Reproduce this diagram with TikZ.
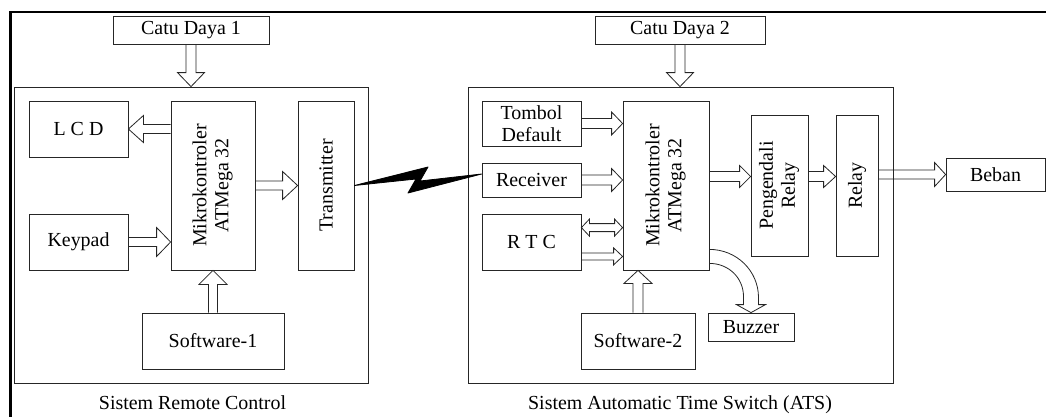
\documentclass[tikz,border=0pt]{standalone}
\usepackage{fontspec}
\setmainfont{Liberation Serif}
\usetikzlibrary{positioning, calc}

% sizes of the hollow block arrows
\tikzset{fat shaft/.initial=5bp, fat head/.initial=13.5bp, fat len/.initial=14bp}
\newcommand{\faw}{\pgfkeysvalueof{/tikz/fat shaft}}
\newcommand{\faW}{\pgfkeysvalueof{/tikz/fat head}}
\newcommand{\fah}{\pgfkeysvalueof{/tikz/fat len}}
\newcommand{\fatangle}[2]{%
  \path let \p1=#1, \p2=#2 in \pgfextra{%
    \pgfmathsetmacro\faAng{atan2(\y2-\y1,\x2-\x1)}\global\let\faAng\faAng
    \pgfmathsetmacro\faLen{veclen(\x2-\x1,\y2-\y1)}\global\let\faLen\faLen};}
\newcommand{\fatarrow}[3][]{%
  \fatangle{#2}{#3}
  \draw[fat, #1, shift={#2}, rotate=\faAng]
    (0pt,\faw) -- ({\faLen pt-\fah},\faw) -- ({\faLen pt-\fah},\faW) -- (\faLen pt,0pt)
    -- ({\faLen pt-\fah},-\faW) -- ({\faLen pt-\fah},-\faw) -- (0pt,-\faw);}
\newcommand{\fatboth}[3][]{%
  \fatangle{#2}{#3}
  \draw[fat, #1, shift={#2}, rotate=\faAng]
    (\fah,\faw) -- ({\faLen pt-\fah},\faw) -- ({\faLen pt-\fah},\faW) -- (\faLen pt,0pt)
    -- ({\faLen pt-\fah},-\faW) -- ({\faLen pt-\fah},-\faw) -- (\fah,-\faw)
    -- (\fah,-\faW) -- (0pt,0pt) -- (\fah,\faW) -- cycle;}

\begin{document}
\begin{tikzpicture}[
    x=1bp, y=-1bp,
    font=\fontsize{20}{22}\selectfont,
    box/.style={draw=black!85, line width=0.8bp, inner sep=0pt},
    fat/.style={draw=black!85, line width=0.8bp, line join=miter},
    frame/.style={line width=2.4bp},
]
    \useasboundingbox (0,0) rectangle (1046,416);
    \draw[frame] (10.5,430) -- (10.5,12) -- (1060,12);

    % remote control side
    \node[box, minimum width=156bp, minimum height=28bp] (cd1) at (191,30) {Catu Daya 1};
    \node[box, minimum width=354bp, minimum height=296bp] (sys1) at (191,235) {};
    \node[box, minimum width=99bp, minimum height=56bp] (lcd) at (78.5,129) {L C D};
    \node[box, minimum width=99bp, minimum height=56bp] (key) at (78.5,242) {Keypad};
    \node[box, minimum width=84bp, minimum height=169bp] (mk1) at (213,185.5)
        {\rotatebox{90}{\begin{tabular}{@{}c@{}}Mikrokontroler\\ATMega 32\end{tabular}}};
    \node[box, minimum width=56bp, minimum height=169bp] (tx) at (326,185.5) {\rotatebox{90}{Transmitter}};
    \node[box, minimum width=142bp, minimum height=56bp] (sw1) at (213,341) {Software-1};
    \node[anchor=base] (lbl1) at (192.5,409) {Sistem Remote Control};

    % ATS side
    \node[box, minimum width=170bp, minimum height=28bp] (cd2) at (680,30) {Catu Daya 2};
    \node[box, minimum width=425bp, minimum height=296bp] (sys2) at (680.5,235) {};
    \node[box, align=center, minimum width=99bp, minimum height=45bp] (tb) at (531.5,123.5) {Tombol\\Default};
    \node[box, minimum width=99bp, minimum height=34bp] (rx) at (531.5,180) {Receiver};
    \node[box, minimum width=99bp, minimum height=56bp] (rtc) at (531.5,242) {R T C};
    \node[box, minimum width=86bp, minimum height=169bp] (mk2) at (666,185.5)
        {\rotatebox{90}{\begin{tabular}{@{}c@{}}Mikrokontroler\\ATMega 32\end{tabular}}};
    \node[box, minimum width=114bp, minimum height=56bp] (sw2) at (638,341) {Software-2};
    \node[box, minimum width=86bp, minimum height=28bp] (buzz) at (751,327) {Buzzer};
    \node[box, minimum width=57bp, minimum height=141bp] (peng) at (779.5,185.5)
        {\rotatebox{90}{\begin{tabular}{@{}c@{}}Pengendali\\Relay\end{tabular}}};
    \node[box, minimum width=42bp, minimum height=141bp] (relay) at (857,185.5) {\rotatebox{90}{Relay}};
    \node[box, minimum width=99bp, minimum height=33bp] (beban) at (995.5,174.5) {Beban};
    \node[anchor=base] (lbl2) at (680,409) {Sistem Automatic Time Switch (ATS)};

    \coordinate (rtc1) at ($(rtc.north east)+(0,14)$);
    \coordinate (rtc2) at ($(rtc.south east)+(0,-14)$);
    \coordinate (mk2o) at ($(mk2.east)+(0,-9)$);
    \coordinate (rxb) at ($(rx.west)+(0,-6)$);

    % arrows
    \fatarrow{(cd1.south)}{(cd1.south |- sys1.north)}
    \fatarrow[fat shaft=4.5bp, fat len=15bp]{(mk1.west |- lcd)}{(lcd.east)}
    \fatarrow[fat shaft=4.5bp, fat head=14.5bp]{(key.east)}{(key.east -| mk1.west)}
    \fatarrow[fat shaft=4.5bp, fat head=14bp, fat len=15bp]{(mk1.east)}{(tx.west)}
    \fatarrow[fat shaft=4.5bp, fat head=14bp]{(sw1.north)}{(sw1.north |- mk1.south)}

    \fatarrow{(cd2.south)}{(cd2.south |- sys2.north)}
    \fatarrow[fat head=11.5bp, fat len=11bp]{(tb.east)}{(tb.east -| mk2.west)}
    \fatarrow[fat head=11.5bp, fat len=11bp]{(rx.east)}{(rx.east -| mk2.west)}
    \fatboth[fat shaft=4bp, fat head=8.5bp, fat len=8bp]{(rtc1)}{(rtc1 -| mk2.west)}
    \fatarrow[fat shaft=3.5bp, fat head=8.5bp, fat len=9bp]{(rtc2)}{(rtc2 -| mk2.west)}
    \fatarrow[fat head=11bp, fat len=11bp]{(mk2o)}{(mk2o -| peng.west)}
    \fatarrow[fat head=11bp, fat len=12bp]{(mk2o -| peng.east)}{(mk2o -| relay.west)}
    \fatarrow[fat shaft=4.5bp, fat head=12bp, fat len=11bp]{(relay.east |- beban)}{(beban.west)}
    \fatarrow[fat head=14bp, fat len=13bp]{(sw2.north)}{(sw2.north |- mk2.south)}

    % curved arrow to the buzzer
    \draw[fat] ($(mk2.south east)+(0,-21)$) .. controls +(27,0) and +(0,-27) .. ($(buzz.north)+(7.5,-15)$)
        -- ++(0,7) -- ++(7,0) -- (buzz.north) -- ++(-14.5,-8) -- ++(7,0) -- ++(0,-8)
        .. controls +(0,-19) and +(19,0) .. ($(mk2.south east)+(0,-7)$);

    % radio link
    \filldraw[line width=0.8bp, line join=round] (tx.east) -- (428,167) -- (420,181) -- (rxb)
        -- (408,193) -- (416,179) -- cycle;
\end{tikzpicture}
\end{document}
